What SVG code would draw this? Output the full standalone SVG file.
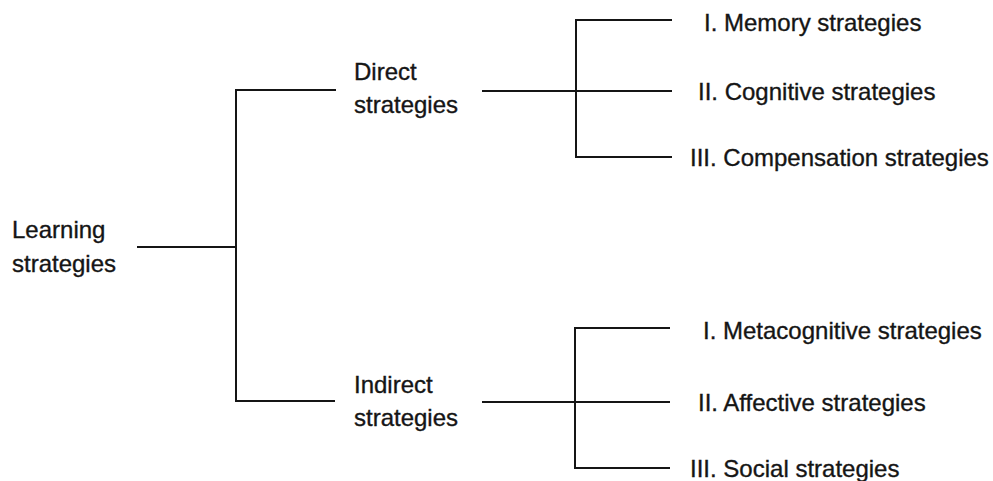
<svg xmlns="http://www.w3.org/2000/svg" width="993" height="481" viewBox="0 0 993 481">
  <style>
    text { font-family: "Liberation Sans", Arial, sans-serif; font-size: 24px; fill: #151515; stroke: #151515; stroke-width: 0.35; }
    .link { stroke: #151515; stroke-width: 2; fill: none; }
  </style>
  <rect width="993" height="481" fill="#ffffff"/>

  <!-- connectors -->
  <g id="connectors">
    <path class="link" d="M137 247 H236"/>
    <path class="link" d="M336 90 H236 V401 H335"/>
    <path class="link" d="M482 91 H576"/>
    <path class="link" d="M672 20 H576 V157 H672"/>
    <path class="link" d="M576 91 H672"/>
    <path class="link" d="M482 402 H576"/>
    <path class="link" d="M670 328 H575 V468 H670"/>
    <path class="link" d="M575 402 H670"/>
  </g>

  <g id="learning">
    <text x="12" y="238">Learning</text>
    <text x="12" y="272">strategies</text>
  </g>
  <g id="direct">
    <text x="354" y="80">Direct</text>
    <text x="354" y="113">strategies</text>
  </g>
  <g id="indirect">
    <text x="354" y="393">Indirect</text>
    <text x="354" y="426">strategies</text>
  </g>

  <g id="memory"><text x="704" y="31">I. Memory strategies</text></g>
  <g id="cognitive"><text x="698" y="100">II. Cognitive strategies</text></g>
  <g id="compensation"><text x="690" y="166">III. Compensation strategies</text></g>
  <g id="metacognitive"><text x="703" y="339">I. Metacognitive strategies</text></g>
  <g id="affective"><text x="698" y="411">II. Affective strategies</text></g>
  <g id="social"><text x="690" y="477">III. Social strategies</text></g>
</svg>
